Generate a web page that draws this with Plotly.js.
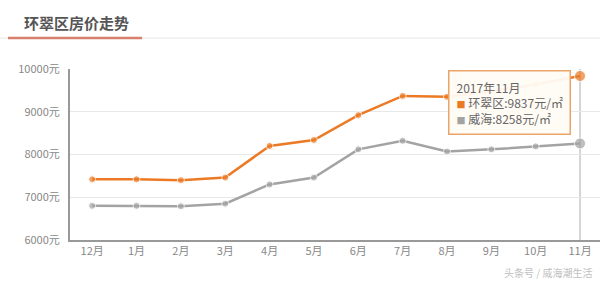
<!DOCTYPE html>
<html><head><meta charset="utf-8">
<script src="https://cdn.plot.ly/plotly-3.0.1.min.js"></script>
<style>html,body{margin:0;padding:0;background:#fff;}#c{width:600px;height:282px;}</style>
</head><body><div id="c"></div>
<script>
const months = ['12月','1月','2月','3月','4月','5月','6月','7月','8月','9月','10月','11月'];
const huancui = [7420,7420,7400,7460,8200,8340,8920,9370,9350,9480,9640,9837];
const weihai = [6800,6800,6790,6850,7300,7460,8120,8320,8070,8120,8190,8258];
const yTicks = [6000,7000,8000,9000,10000];
const yTickText = ['6000元','7000元','8000元','9000元','10000元'];
const nameA = '环翠区', nameB = '威海';
const tipTitle = '2017年11月';
const orange = '#ec7a24', gray = '#a3a3a3';
const F = '"Noto Sans CJK SC", "Noto Sans", sans-serif';
const last = months.length - 1;

const traces = [
  {x: months, y: weihai, type:'scatter', mode:'lines+markers', name: nameB,
   line:{color:gray, width:2.5}, marker:{color:gray, size:months.map((m,i)=>i===last?11:7)}},
  {x: months, y: huancui, type:'scatter', mode:'lines+markers', name: nameA,
   line:{color:orange, width:2.5}, marker:{color:orange, size:months.map((m,i)=>i===last?11:7)}}
];
const tip = tipTitle + '<br><span style="color:'+orange+';font-size:9px">■</span> ' + nameA + ':' + huancui[last] + '元/㎡' +
  '<br><span style="color:'+gray+';font-size:9px">■</span> ' + nameB + ':' + weihai[last] + '元/㎡';
const layout = {
  width:600, height:282, showlegend:false,
  margin:{l:70, r:0, t:69, b:42},
  paper_bgcolor:'#fff', plot_bgcolor:'#fff',
  font:{family:F, size:11, color:'#888'},
  xaxis:{type:'category', range:[-0.5, 11.45], showgrid:false, showline:true, linecolor:'#999', linewidth:2,
    ticks:'', tickfont:{size:11, color:'#888', family:F}, zeroline:false, fixedrange:true},
  yaxis:{range:[6000,10000], tickvals:yTicks, ticktext:yTickText, showgrid:true, gridcolor:'#e8e8e8', gridwidth:1,
    showline:true, linecolor:'#999', linewidth:2, ticks:'', ticklabelstandoff:6, tickfont:{size:11, color:'#888', family:F}, zeroline:false},
  shapes:[
    {type:'line', xref:'x', yref:'y', x0:months[last], x1:months[last], y0:6000, y1:10000, line:{color:'#c8c8c8', width:1.5}, layer:'below'},
    {type:'line', xref:'paper', yref:'paper', x0:-70/530, x1:1, y0:1+(69-38)/171, y1:1+(69-38)/171, line:{color:'#eeeeee', width:1.5}},
    {type:'line', xref:'paper', yref:'paper', x0:-62/530, x1:72/530, y0:1+(69-38)/171, y1:1+(69-38)/171, line:{color:'#d9806c', width:2.5}}
  ],
  annotations:[
    {xref:'paper', yref:'paper', x:-48/530, y:1+(69-23)/171, xanchor:'left', yanchor:'middle', showarrow:false,
     text:'<b>环翠区房价走势</b>', font:{size:15, color:'#555', family:F}},
    {xref:'x', yref:'y', x:months[last], y:9210, xanchor:'right', yanchor:'middle', xshift:-9, showarrow:false, align:'left',
     text:tip, font:{size:12, color:'#666', family:F}, bgcolor:'rgba(255,251,244,0.95)', bordercolor:'#eaa56a', borderwidth:1.5, borderpad:7},
    {xref:'paper', yref:'paper', x:1, y:-(272-240)/171, xanchor:'right', xshift:-6, yanchor:'middle', showarrow:false,
     text:'头条号 / 威海潮生活', font:{size:10, color:'#c0c0c0', family:F}}
  ]
};
Plotly.newPlot('c', traces, layout, {displayModeBar:false, staticPlot:true});
</script></body></html>
